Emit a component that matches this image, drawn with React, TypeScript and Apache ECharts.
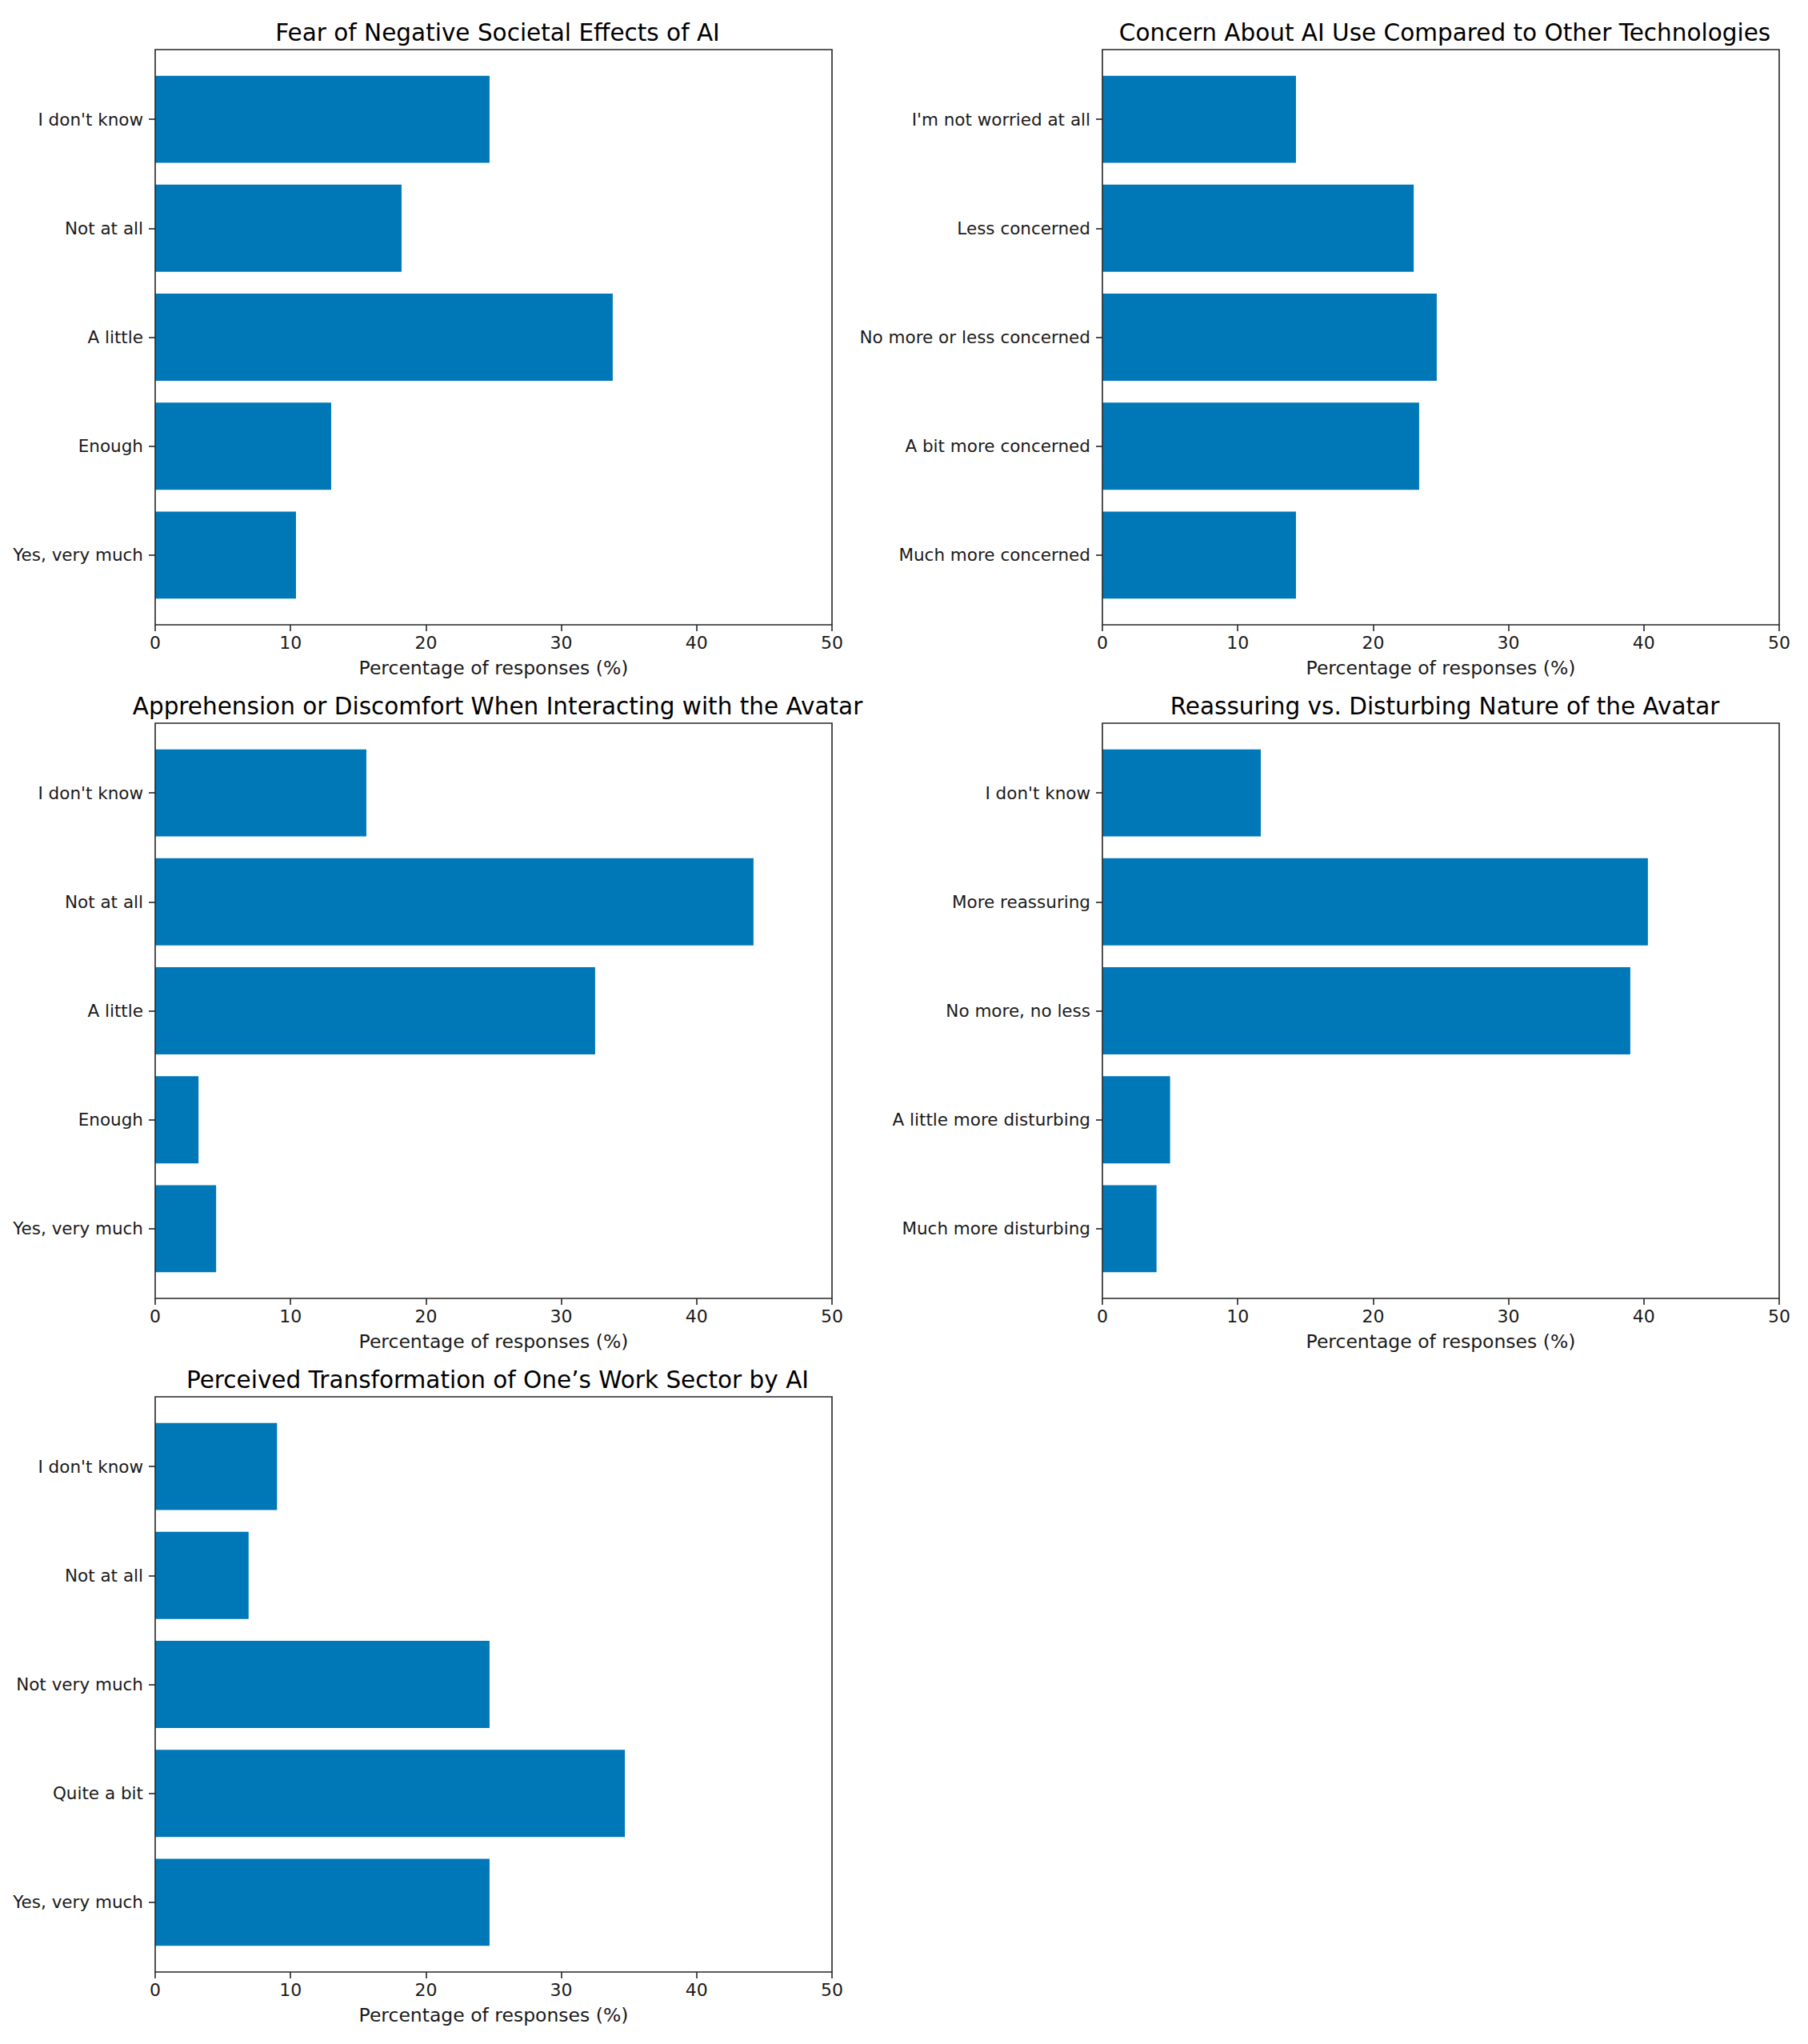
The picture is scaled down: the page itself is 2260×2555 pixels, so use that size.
import { useEffect, useRef } from 'react';
import * as echarts from 'echarts';

// categories are listed top to bottom, as they appear in each panel
const fearLabels = ["I don't know", 'Not at all', 'A little', 'Enough', 'Yes, very much'];
const fearValues = [24.7, 18.2, 33.8, 13.0, 10.4];

const concernLabels = [
  "I'm not worried at all",
  'Less concerned',
  'No more or less concerned',
  'A bit more concerned',
  'Much more concerned'
];
const concernValues = [14.3, 23.0, 24.7, 23.4, 14.3];

const apprehensionLabels = ["I don't know", 'Not at all', 'A little', 'Enough', 'Yes, very much'];
const apprehensionValues = [15.6, 44.2, 32.5, 3.2, 4.5];

const natureLabels = [
  "I don't know",
  'More reassuring',
  'No more, no less',
  'A little more disturbing',
  'Much more disturbing'
];
const natureValues = [11.7, 40.3, 39.0, 5.0, 4.0];

const transformLabels = ["I don't know", 'Not at all', 'Not very much', 'Quite a bit', 'Yes, very much'];
const transformValues = [9.0, 6.9, 24.7, 34.7, 24.7];

const panelTitles = [
  'Fear of Negative Societal Effects of AI',
  'Concern About AI Use Compared to Other Technologies',
  'Apprehension or Discomfort When Interacting with the Avatar',
  'Reassuring vs. Disturbing Nature of the Avatar',
  'Perceived Transformation of One’s Work Sector by AI'
];
const panelLabels = [fearLabels, concernLabels, apprehensionLabels, natureLabels, transformLabels];
const panelValues = [fearValues, concernValues, apprehensionValues, natureValues, transformValues];

const xAxisName = 'Percentage of responses (%)';
const xMin = 0;
const xMax = 50;
const xStep = 10;

const FONT = "'DejaVu Sans', sans-serif";
const INK = '#1a1a1a';
const SPINE = '#262626';
const BAR = '#0077b6';

const COL_LEFT = [194, 1378];
const ROW_TOP = [62, 904, 1746];
const BOX_W = 846;
const BOX_H = 719;
// matplotlib pads the bars' extent (-0.4..4.4) by 5% on each side
const BAND_PAD = (BOX_H * 0.14) / 5.28;

export default function App() {
  const ref = useRef<HTMLDivElement>(null);

  useEffect(() => {
    if (!ref.current) return;
    const chart = echarts.init(ref.current, undefined, { renderer: 'svg' });

    const grid: any[] = [];
    const xAxis: any[] = [];
    const yAxis: any[] = [];
    const series: any[] = [];
    const title: any[] = [];

    panelTitles.forEach((text, i) => {
      const left = COL_LEFT[i % 2];
      const top = ROW_TOP[Math.floor(i / 2)];
      const boxIdx = i * 2;
      const barIdx = i * 2 + 1;

      title.push({
        text,
        left: left + BOX_W / 2,
        top: top - 41,
        textAlign: 'center',
        textStyle: { fontFamily: FONT, fontSize: 29.5, fontWeight: 'normal', color: '#000' }
      });

      // frame with the x ticks
      grid.push({
        left,
        top,
        width: BOX_W,
        height: BOX_H,
        show: true,
        borderColor: SPINE,
        borderWidth: 1.6,
        backgroundColor: 'transparent',
        z: 3
      });
      // band for the categories
      grid.push({
        left,
        top: top + BAND_PAD,
        width: BOX_W,
        height: BOX_H - 2 * BAND_PAD
      });

      xAxis.push({
        gridIndex: boxIdx,
        type: 'value',
        min: xMin,
        max: xMax,
        interval: xStep,
        axisLine: { show: false },
        axisTick: { show: true, length: 8, lineStyle: { color: SPINE, width: 1.6 } },
        splitLine: { show: false },
        axisLabel: { margin: 11, fontFamily: FONT, fontSize: 22, color: INK },
        name: xAxisName,
        nameLocation: 'middle',
        nameGap: 42,
        nameTextStyle: { fontFamily: FONT, fontSize: 23.5, color: INK }
      });
      xAxis.push({
        gridIndex: barIdx,
        type: 'value',
        min: xMin,
        max: xMax,
        show: false
      });

      yAxis.push({ gridIndex: boxIdx, type: 'value', show: false });
      yAxis.push({
        gridIndex: barIdx,
        type: 'category',
        inverse: true,
        data: panelLabels[i],
        axisLine: { show: false },
        axisTick: {
          show: true,
          alignWithLabel: true,
          length: 8,
          lineStyle: { color: SPINE, width: 1.6 }
        },
        axisLabel: { margin: 15, fontFamily: FONT, fontSize: 21.5, color: INK }
      });

      series.push({
        type: 'bar',
        xAxisIndex: barIdx,
        yAxisIndex: barIdx,
        data: panelValues[i],
        barWidth: '80%',
        itemStyle: { color: BAR }
      });
    });

    chart.setOption({
      animation: false,
      backgroundColor: '#ffffff',
      title,
      grid,
      xAxis,
      yAxis,
      series
    });

    return () => chart.dispose();
  }, []);

  return (
    <div
      ref={ref}
      style={{ position: 'absolute', left: 0, top: 0, width: 2260, height: 2555 }}
    />
  );
}
